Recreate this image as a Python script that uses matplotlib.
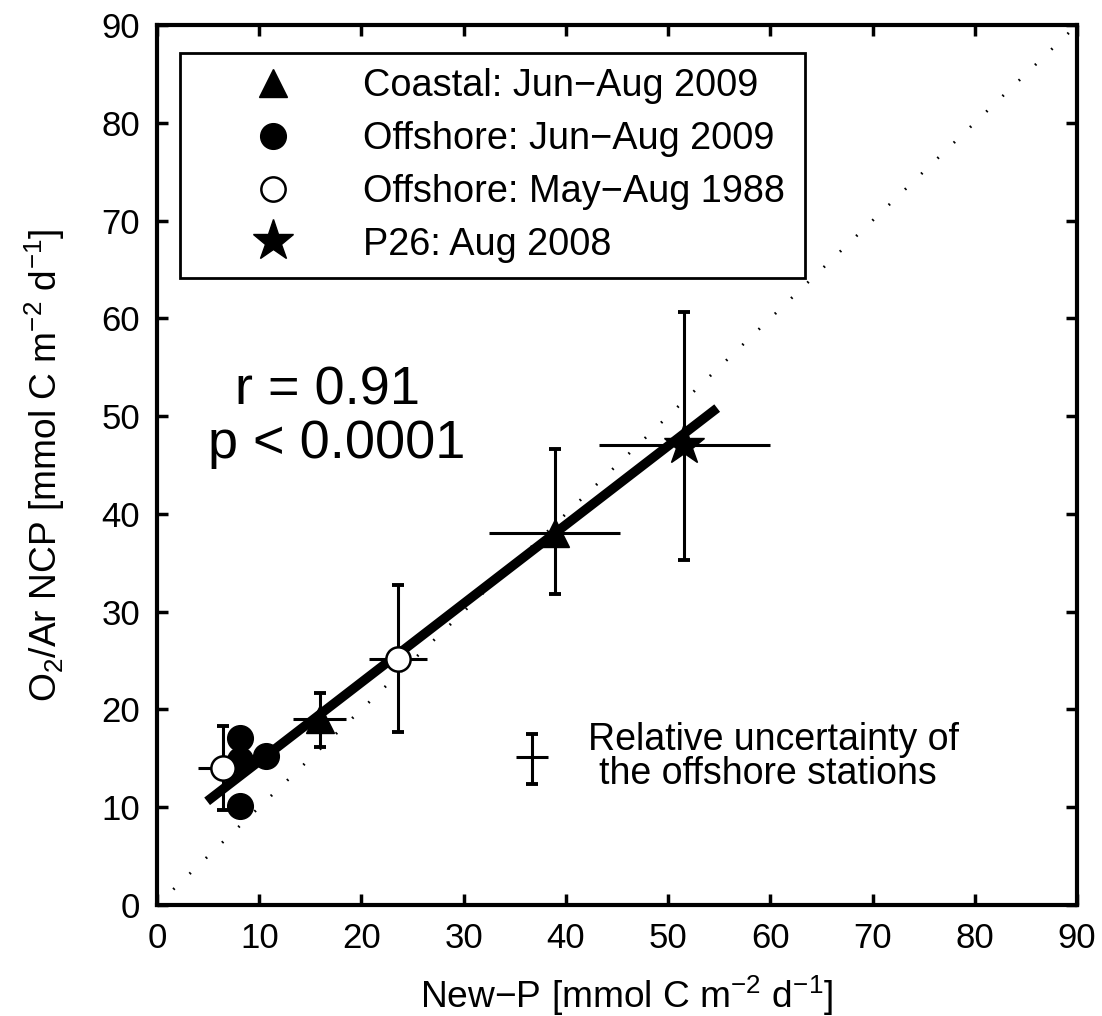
import matplotlib
matplotlib.use('Agg')
import matplotlib.pyplot as plt

# --- dados ---
coastal_x = [15.9, 38.9]
coastal_y = [19.0, 38.0]
coastal_xerr = [2.6, 6.4]
coastal_yerr_lo = [2.8, 6.2]
coastal_yerr_hi = [2.7, 8.6]

off09_x = [8.1, 8.1, 10.7, 8.1]
off09_y = [17.1, 14.8, 15.2, 10.1]

off88_x = [6.5, 23.6]
off88_y = [14.0, 25.2]
off88_xerr = [2.5, 2.85]
off88_yerr_lo = [4.3, 7.5]
off88_yerr_hi = [4.3, 7.5]

p26_x = [51.6]
p26_y = [47.0]
p26_xerr = [8.4]
p26_yerr_lo = [11.7]
p26_yerr_hi = [13.6]

# reta de regressao (extremos)
fit_x = [4.9, 54.8]
fit_slope = 0.806
fit_intercept = 6.65

# incerteza relativa das estacoes offshore
rel_x = [36.7]
rel_y = [15.15]
rel_xerr = [1.55]
rel_yerr_lo = [2.8]
rel_yerr_hi = [2.35]

ticks = [0, 10, 20, 30, 40, 50, 60, 70, 80, 90]
# ----------------------------

plt.rcParams['font.family'] = ['Liberation Sans', 'DejaVu Sans']
plt.rcParams['mathtext.fontset'] = 'custom'
plt.rcParams['mathtext.rm'] = 'Liberation Sans'

fig = plt.figure(figsize=(11.02, 10.16), dpi=100)
ax = fig.add_axes([0.1425, 0.1093, 0.8348, 0.8661])

ax.plot([0, 90], [0, 90], color='black', lw=2, ls=(0, (0.6, 7.5)), zorder=1)

fit_y = [fit_slope * v + fit_intercept for v in fit_x]
ax.plot(fit_x, fit_y, color='black', lw=6.8, solid_capstyle='butt', zorder=2)

# barras de erro: verticais com "caps", horizontais sem
for xs, ys, xe, ylo, yhi in [
        (coastal_x, coastal_y, coastal_xerr, coastal_yerr_lo, coastal_yerr_hi),
        (off88_x, off88_y, off88_xerr, off88_yerr_lo, off88_yerr_hi),
        (p26_x, p26_y, p26_xerr, p26_yerr_lo, p26_yerr_hi),
        (rel_x, rel_y, rel_xerr, rel_yerr_lo, rel_yerr_hi)]:
    ax.errorbar(xs, ys, yerr=[ylo, yhi], fmt='none', ecolor='black',
                elinewidth=2.2, capsize=4, capthick=2.8, zorder=3)
    ax.errorbar(xs, ys, xerr=xe, fmt='none', ecolor='black', elinewidth=2.2,
                capsize=0, zorder=3)

h1, = ax.plot(coastal_x, coastal_y, '^', color='black', ms=20, ls='none',
              zorder=4, label='Coastal: Jun\u2212Aug 2009')
h2, = ax.plot(off09_x, off09_y, 'o', color='black', ms=18.5, ls='none',
              zorder=4, label='Offshore: Jun\u2212Aug 2009')
h3, = ax.plot(off88_x, off88_y, 'o', mfc='white', mec='black', mew=1.8, ms=17.5,
              ls='none', zorder=4, label='Offshore: May\u2212Aug 1988')
h4, = ax.plot(p26_x, p26_y, '*', color='black', ms=31, ls='none',
              zorder=4, label='P26: Aug 2008')

leg = ax.legend(handles=[h1, h2, h3, h4], loc='upper left',
                bbox_to_anchor=(0.025, 0.7122, 0.679, 0.2556), mode='expand',
                borderaxespad=0, fontsize=27.3, borderpad=0.4, labelspacing=0.44,
                handlelength=4.1, handletextpad=0.32, numpoints=1,
                fancybox=False, framealpha=1, edgecolor='black')
leg.get_frame().set_linewidth(2)

ax.text(16.7, 51.2, 'r = 0.91', fontsize=39, ha='center', va='baseline')
ax.text(17.6, 45.7, 'p < 0.0001', fontsize=39, ha='center', va='baseline')

ax.text(42.2, 15.8, 'Relative uncertainty of', fontsize=27, va='baseline')
ax.text(43.2, 12.4, 'the offshore stations', fontsize=27, va='baseline')

ax.set_xlim(0, 90)
ax.set_ylim(0, 90)
ax.set_xticks(ticks)
ax.set_yticks(ticks)
ax.tick_params(direction='in', length=8, width=2.5, top=True, right=True,
               labelsize=25, pad=12)
for s in ax.spines.values():
    s.set_linewidth(3)

ax.set_xlabel('New\u2212P [mmol C m$^{\\mathregular{-2}}$ d$^{\\mathregular{-1}}$]',
              fontsize=26.7)
ax.set_ylabel('O$_{\\mathregular{2}}$/Ar NCP [mmol C m$^{\\mathregular{-2}}$ d$^{\\mathregular{-1}}$]',
              fontsize=26.7)
ax.xaxis.set_label_coords(0.51, -0.077)
ax.yaxis.set_label_coords(-0.098, 0.5)

fig.savefig('out.png', dpi=100)
